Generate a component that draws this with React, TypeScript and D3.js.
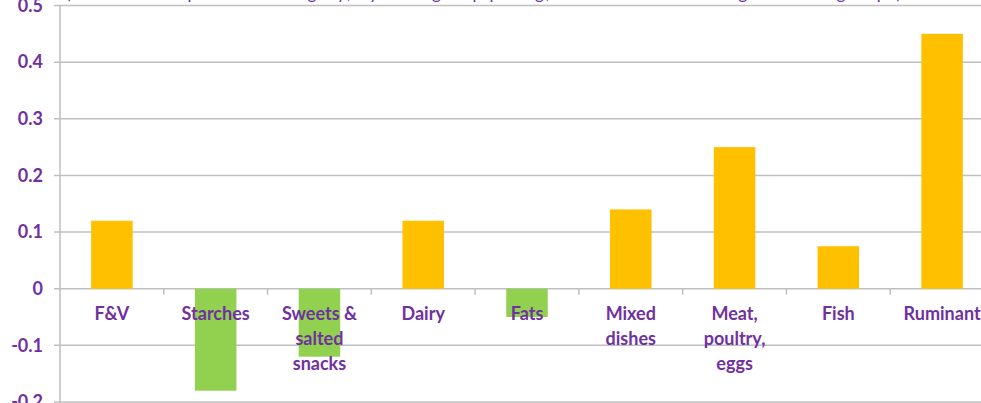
import React from "react";
import * as d3 from "d3";

const categories = ["F&V", "Starches", "Sweets & salted snacks", "Dairy", "Fats", "Mixed dishes", "Meat, poultry, eggs", "Fish", "Ruminant"];
const labelLines = [["F&V"], ["Starches"], ["Sweets &", "salted", "snacks"], ["Dairy"], ["Fats"], ["Mixed", "dishes"], ["Meat,", "poultry,", "eggs"], ["Fish"], ["Ruminant"]];
const values = [0.12, -0.18, -0.12, 0.12, -0.05, 0.14, 0.25, 0.075, 0.45];
const yTicks = [0.5, 0.4, 0.3, 0.2, 0.1, 0, -0.1, -0.2];
const yTickLabels = ["0.5", "0.4", "0.3", "0.2", "0.1", "0", "-0.1", "-0.2"];
const subtitle = "(contribution per food category, by food group per kg, relative to the average of food groups)";

const W = 981, H = 403;
const PURPLE = "#7030A0";
const GRID = "#BFBFBF";

export default function App() {
  const x = d3.scaleBand<string>().domain(categories).range([60, 994]).paddingInner(0).paddingOuter(0);
  const y = d3.scaleLinear().domain([-0.2, 0.5]).range([402, 5.5]);
  const bw = x.bandwidth() * 0.4;
  const font = "Lato, 'Open Sans', sans-serif";
  return (
    <svg width={W} height={H} style={{ position: "absolute", left: 0, top: 0, background: "#fff" }}>
      <text x={66} y={-1} fill={PURPLE} fontFamily={font} fontSize={17} textLength={835}>{subtitle}</text>
      {yTicks.map((t, i) => (
        <g key={i}>
          <line x1={54} x2={W} y1={y(t)} y2={y(t)} stroke={GRID} strokeWidth={1.5} />
          <text x={43} y={y(t)} dy="0.35em" textAnchor="end" fill={PURPLE} fontFamily={font} fontWeight="bold" fontSize={18}>{yTickLabels[i]}</text>
        </g>
      ))}
      <line x1={60} x2={60} y1={y(0.5)} y2={H} stroke={GRID} strokeWidth={1.5} />
      {categories.map((c, i) => (
        <rect key={c} x={(x(c) as number) + (x.bandwidth() - bw) / 2} width={bw}
          y={Math.min(y(values[i]), y(0))} height={Math.abs(y(values[i]) - y(0))}
          fill={values[i] >= 0 ? "#FFC000" : "#92D050"} />
      ))}
      {categories.map((c, i) => (
        <line key={"t" + i} x1={(x(c) as number) + x.bandwidth()} x2={(x(c) as number) + x.bandwidth()} y1={y(0)} y2={y(0) + 6} stroke={GRID} strokeWidth={1.5} />
      ))}
      {categories.map((c, i) => (
        <text key={"l" + i} x={(x(c) as number) + x.bandwidth() / 2} y={y(0) + 31} textAnchor="middle" fill={PURPLE} fontFamily={font} fontWeight="bold" fontSize={18}>
          {labelLines[i].map((ln, j) => (
            <tspan key={j} x={(x(c) as number) + x.bandwidth() / 2} dy={j === 0 ? 0 : 25}>{ln}</tspan>
          ))}
        </text>
      ))}
    </svg>
  );
}
